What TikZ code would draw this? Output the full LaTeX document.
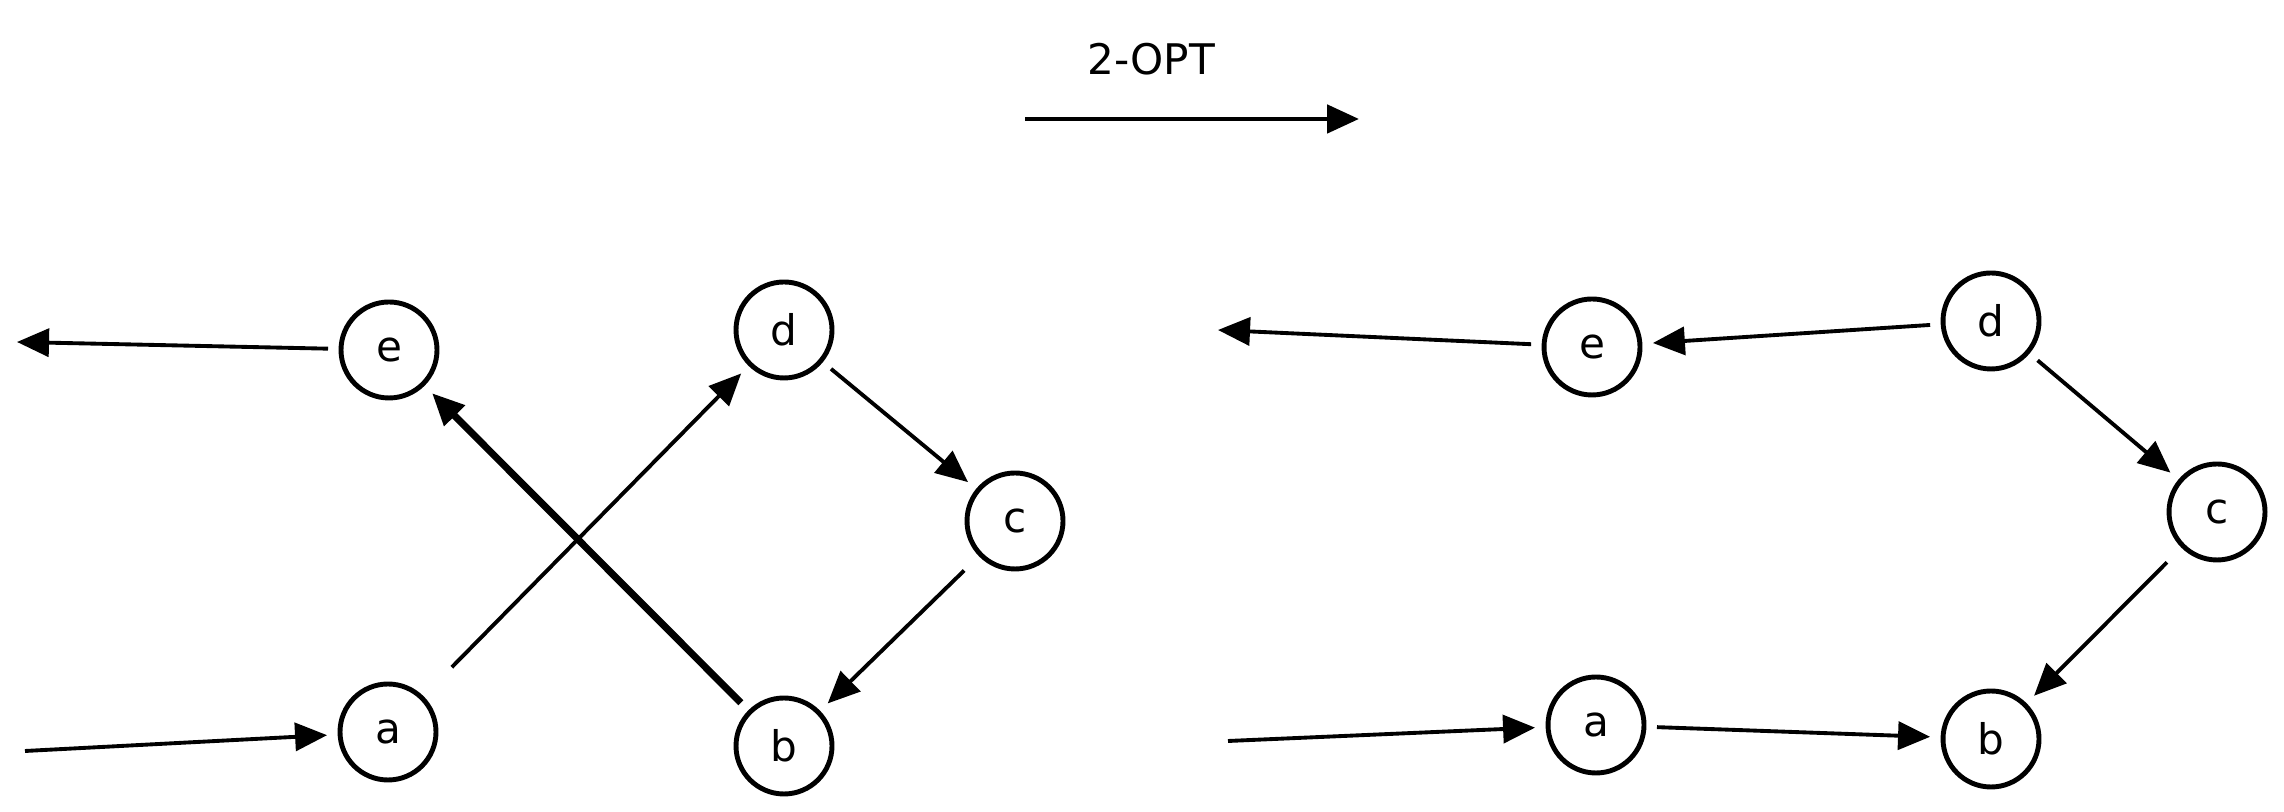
\documentclass[tikz,border=0pt]{standalone}
\usepackage{fontspec}
\setmainfont{DejaVu Sans}
\usetikzlibrary{arrows.meta}
\tikzset{every path/.style={line width=1.1pt}}
\tikzset{city/.style={circle,draw,line width=1.4pt,minimum size=0.96cm,inner sep=0pt,outer sep=0.13cm,font=\large},
  link/.style={-{Triangle[length=3.2mm,width=2.8mm]}}}

\begin{document}
\begin{tikzpicture}
    \useasboundingbox (0,0) rectangle (22.84,8.12);

    % 2-opt move
    \node[font=\large] (title) at (11.51,7.53) {2-OPT};
    \coordinate (from) at (10.25,6.93);
    \coordinate (to) at (13.59,6.93);
    \draw[link,line width=1.4pt] (from) -- (to);

    % before
    \node[city] (e1) at (3.89,4.62) {e};
    \node[city] (d1) at (7.84,4.82) {d};
    \node[city] (c1) at (10.15,2.91) {c};
    \node[city] (a1) at (3.88,0.80) {a};
    \node[city] (b1) at (7.84,0.66) {b};
    \coordinate (out1) at (0.17,4.70);
    \coordinate (in1) at (0.25,0.61);

    \draw[link] (e1) -- (out1);
    \draw[link] (in1) -- (a1);
    \draw[link,shorten <=0.3cm] (a1) -- (d1);
    \draw[link,line width=2pt] (b1) -- (e1);
    \draw[link] (d1) -- (c1);
    \draw[link,shorten <=0.1cm] (c1) -- (b1);

    % after
    \node[city] (e2) at (15.92,4.65) {e};
    \node[city] (d2) at (19.91,4.91) {d};
    \node[city] (c2) at (22.17,3.00) {c};
    \node[city] (a2) at (15.96,0.87) {a};
    \node[city] (b2) at (19.91,0.73) {b};
    \coordinate (out2) at (12.18,4.82);
    \coordinate (in2) at (12.28,0.71);

    \draw[link] (e2) -- (out2);
    \draw[link] (in2) -- (a2);
    \draw[link] (d2) -- (e2);
    \draw[link] (d2) -- (c2);
    \draw[link,shorten <=0.1cm] (c2) -- (b2);
    \draw[link] (a2) -- (b2);
\end{tikzpicture}
\end{document}
